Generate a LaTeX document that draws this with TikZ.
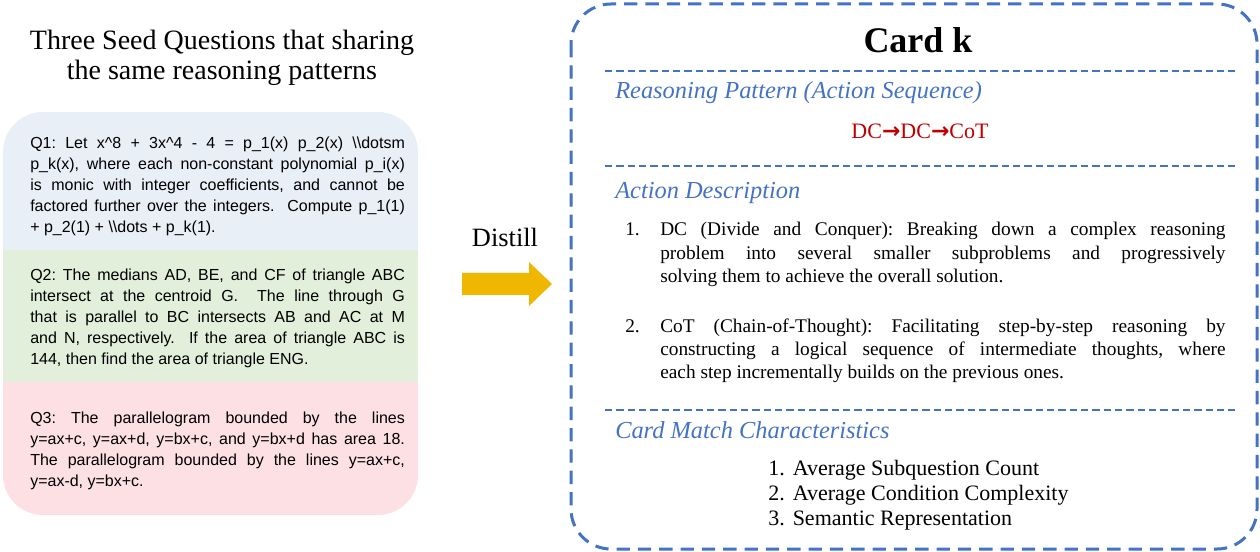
\documentclass[tikz,border=0pt]{standalone}
\usepackage{fontspec}
\setmainfont{Liberation Serif}
\newfontfamily\qfont{Liberation Sans}
\newfontfamily\arrowfont{DejaVu Sans}
\frenchspacing
\definecolor{cardblue}{HTML}{4472C4}
\definecolor{qblue}{HTML}{E9EFF7}
\definecolor{qgreen}{HTML}{E2EFDA}
\definecolor{qpink}{HTML}{FCE0E4}
\definecolor{actred}{HTML}{C00000}
\definecolor{gold}{HTML}{F0B700}
\tikzset{
  qtext/.style={anchor=base west, inner sep=0pt, text width=281pt, align=justify,
    font=\qfont\fontsize{12}{15.75}\selectfont},
  header/.style={anchor=base west, inner sep=0pt, text=cardblue,
    font=\fontsize{18.3}{22}\selectfont\itshape},
  sepline/.style={draw=cardblue, line width=1.2pt, dash pattern=on 5.5pt off 3pt},
  itemnum/.style={anchor=base west, inner sep=0pt, font=\fontsize{14.5}{17.6}\selectfont},
  itemtext/.style={itemnum, text width=424pt, align=justify},
  matchitem/.style={anchor=base west, inner sep=0pt, font=\fontsize{16.5}{18.75}\selectfont},
}
\begin{document}
\begin{tikzpicture}[x=0.75pt, y=-0.75pt]
        \useasboundingbox (0,0) rectangle (1260,552);
        % seed questions
        \node at (222,58) (title) [align=center, font=\fontsize{21}{22.5}\selectfont]
          {Three Seed Questions that sharing\\the same reasoning patterns};
        \begin{scope}
          \clip[rounded corners=30pt] (3,112) rectangle (418,515);
          \fill[qblue] (3,112) rectangle (418,250);
          \fill[qgreen] (3,250) rectangle (418,382);
          \fill[qpink] (3,382) rectangle (418,515);
        \end{scope}
        \node at (30,148.5) (qone) [qtext] {Q1: Let x\textasciicircum 8 + 3x\textasciicircum 4 - 4 = p\_1(x) p\_2(x) \textbackslash\textbackslash dotsm\linebreak p\_k(x), where each non-constant polynomial p\_i(x)\linebreak is monic with integer coefficients, and cannot be\linebreak factored further over the integers.\ \ Compute p\_1(1)\linebreak + p\_2(1) + \textbackslash\textbackslash dots + p\_k(1).};
        \node at (30,280.5) (qtwo) [qtext] {Q2: The medians AD, BE, and CF of triangle ABC\linebreak intersect at the centroid G.\ \ The line through G\linebreak that is parallel to BC intersects AB and AC at M\linebreak and N, respectively.\ \ If the area of triangle ABC is\linebreak 144, then find the area of triangle ENG.};
        \node at (30,423.5) (qthree) [qtext] {Q3: The parallelogram bounded by the lines\linebreak y=ax+c, y=ax+d, y=bx+c, and y=bx+d has area 18.\linebreak The parallelogram bounded by the lines y=ax+c,\linebreak y=ax-d, y=bx+c.};
        % distill arrow
        \node at (505,237) (distill) [font=\fontsize{19.8}{22}\selectfont] {Distill};
        \fill[gold] (462,273) -- (529,273) -- (529,262) -- (552,284) -- (529,306)
          -- (529,295) -- (462,295) -- cycle;
        % card
        \draw[cardblue, line width=2.25pt, dash pattern=on 10pt off 6pt, rounded corners=30pt]
          (571,4) rectangle (1257,549);
        \node at (918,40) (cardk) [font=\fontsize{27}{30}\selectfont\bfseries] {Card k};
        \draw[sepline] (605,71) -- (1235,71);
        \draw[sepline] (605,166) -- (1235,166);
        \draw[sepline] (605,410) -- (1235,410);
        \node at (615,99) (pattern) [header] {Reasoning Pattern (Action Sequence)};
        \node at (920,131) (sequence) [text=actred, font=\fontsize{16.5}{20}\selectfont]
          {DC{\arrowfont\bfseries →}DC{\arrowfont\bfseries →}CoT};
        \node at (615,199) (actdesc) [header] {Action Description};
        \node at (625,236) (numdc) [itemnum] {1.};
        \node at (660,236) (dc) [itemtext] {DC (Divide and Conquer): Breaking down a complex reasoning\linebreak problem into several smaller subproblems and progressively\linebreak solving them to achieve the overall solution.};
        \node at (625,332) (numcot) [itemnum] {2.};
        \node at (660,332) (cot) [itemtext] {CoT (Chain-of-Thought): Facilitating step-by-step reasoning by\linebreak constructing a logical sequence of intermediate thoughts, where\linebreak each step incrementally builds on the previous ones.};
        \node at (615,438) (match) [header] {Card Match Characteristics};
        \node at (768,475) (matchone) [matchitem] {1.\hspace{6pt}Average Subquestion Count};
        \node at (768,500) (matchtwo) [matchitem] {2.\hspace{6pt}Average Condition Complexity};
        \node at (768,525) (matchthree) [matchitem] {3.\hspace{6pt}Semantic Representation};
      \end{tikzpicture}
\end{document}
